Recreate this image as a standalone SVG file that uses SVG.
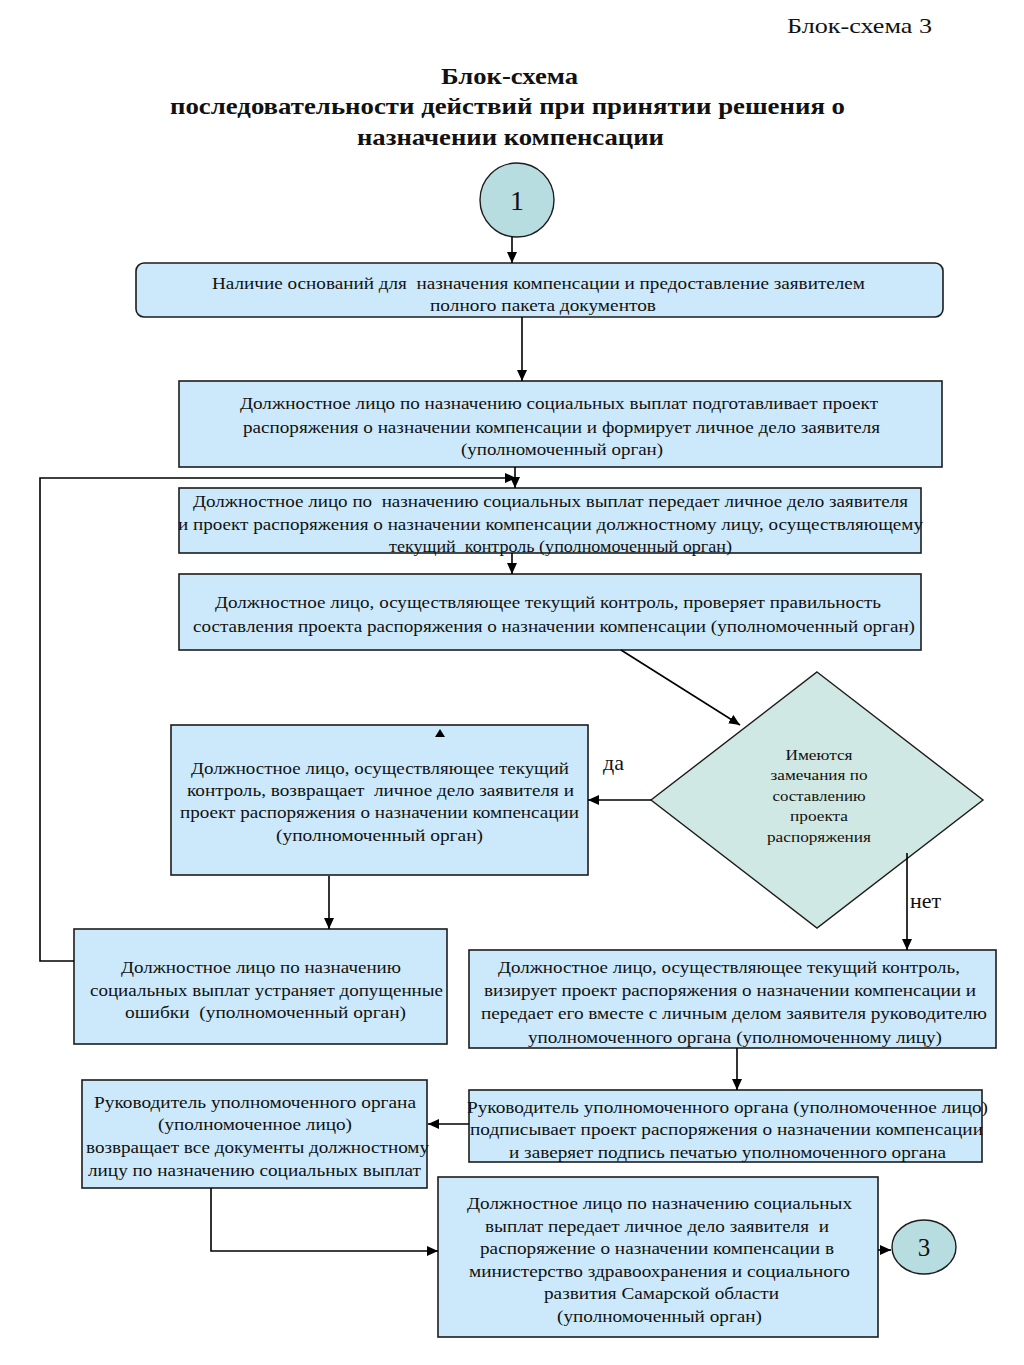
<svg xmlns="http://www.w3.org/2000/svg" width="1024" height="1365" viewBox="0 0 1024 1365">
<style>
text{font-family:"Liberation Serif","Times New Roman",serif;fill:#111;white-space:pre}
.t{font-size:16.5px}
.d{font-size:15px}
.h{font-size:23px;font-weight:bold}
.box{fill:#cce9fb;stroke:#1c1c1c;stroke-width:1.6}
.circ{fill:#b8dde0;stroke:#1c1c1c;stroke-width:1.4}
.dia{fill:#d0e8e4;stroke:#1c1c1c;stroke-width:1.4}
.ln{fill:none;stroke:#000;stroke-width:1.6}
</style>
<defs>
<marker id="ah" markerUnits="userSpaceOnUse" markerWidth="12" markerHeight="10" refX="11" refY="5" orient="auto">
<path d="M0,0 L11,5 L0,10 z" fill="#000"/>
</marker>
</defs>
<rect width="1024" height="1365" fill="#fff"/>
<g id="title">
<text x="787" y="33" style="font-size:22px" textLength="145" lengthAdjust="spacingAndGlyphs">Блок-схема 3</text>
<text class="h" x="441" y="84" textLength="137" lengthAdjust="spacingAndGlyphs">Блок-схема</text>
<text class="h" x="170" y="114" textLength="675" lengthAdjust="spacingAndGlyphs">последовательности действий при принятии решения о</text>
<text class="h" x="357" y="145" textLength="307" lengthAdjust="spacingAndGlyphs">назначении компенсации</text>
</g>
<g id="n1">
<ellipse class="circ" cx="517" cy="200" rx="37" ry="37"/>
<text x="517" y="210" text-anchor="middle" style="font-size:28px">1</text>
</g>
<g id="n2">
<rect class="box" x="136" y="263" width="807" height="54" rx="8"/>
<text class="t" x="212" y="289" textLength="653" lengthAdjust="spacingAndGlyphs">Наличие оснований для  назначения компенсации и предоставление заявителем</text>
<text class="t" x="430" y="311" textLength="226" lengthAdjust="spacingAndGlyphs">полного пакета документов</text>
</g>
<g id="n3">
<rect class="box" x="179" y="381" width="763" height="86"/>
<text class="t" x="240" y="409" textLength="638" lengthAdjust="spacingAndGlyphs">Должностное лицо по назначению социальных выплат подготавливает проект</text>
<text class="t" x="243" y="433" textLength="637" lengthAdjust="spacingAndGlyphs">распоряжения о назначении компенсации и формирует личное дело заявителя</text>
<text class="t" x="461" y="455" textLength="202" lengthAdjust="spacingAndGlyphs">(уполномоченный орган)</text>
</g>
<g id="n4">
<rect class="box" x="179" y="488" width="742" height="65"/>
<text class="t" x="193" y="507" textLength="715" lengthAdjust="spacingAndGlyphs">Должностное лицо по  назначению социальных выплат передает личное дело заявителя</text>
<text class="t" x="178" y="530" textLength="745" lengthAdjust="spacingAndGlyphs">и проект распоряжения о назначении компенсации должностному лицу, осуществляющему</text>
<text class="t" x="389" y="552" textLength="343" lengthAdjust="spacingAndGlyphs">текущий  контроль (уполномоченный орган)</text>
</g>
<g id="n5">
<rect class="box" x="179" y="574" width="742" height="76"/>
<text class="t" x="215" y="608" textLength="666" lengthAdjust="spacingAndGlyphs">Должностное лицо, осуществляющее текущий контроль, проверяет правильность</text>
<text class="t" x="193" y="632" textLength="722" lengthAdjust="spacingAndGlyphs">составления проекта распоряжения о назначении компенсации (уполномоченный орган)</text>
</g>
<g id="n6">
<polygon class="dia" points="817,672 983,800 817,928 651,800"/>
<text class="d" x="819" y="760" text-anchor="middle" textLength="67" lengthAdjust="spacingAndGlyphs">Имеются</text>
<text class="d" x="819" y="780" text-anchor="middle" textLength="97" lengthAdjust="spacingAndGlyphs">замечания по</text>
<text class="d" x="819" y="801" text-anchor="middle" textLength="93" lengthAdjust="spacingAndGlyphs">составлению</text>
<text class="d" x="819" y="821" text-anchor="middle" textLength="58" lengthAdjust="spacingAndGlyphs">проекта</text>
<text class="d" x="819" y="842" text-anchor="middle" textLength="104" lengthAdjust="spacingAndGlyphs">распоряжения</text>
</g>
<g id="n7">
<rect class="box" x="171" y="725" width="417" height="150"/>
<text class="t" x="191" y="774" textLength="378" lengthAdjust="spacingAndGlyphs">Должностное лицо, осуществляющее текущий</text>
<text class="t" x="187" y="796" textLength="387" lengthAdjust="spacingAndGlyphs">контроль, возвращает  личное дело заявителя и</text>
<text class="t" x="180" y="818" textLength="399" lengthAdjust="spacingAndGlyphs">проект распоряжения о назначении компенсации</text>
<text class="t" x="276" y="841" textLength="207" lengthAdjust="spacingAndGlyphs">(уполномоченный орган)</text>
</g>
<g id="n8">
<rect class="box" x="74" y="929" width="373" height="115"/>
<text class="t" x="121" y="973" textLength="280" lengthAdjust="spacingAndGlyphs">Должностное лицо по назначению</text>
<text class="t" x="90" y="996" textLength="353" lengthAdjust="spacingAndGlyphs">социальных выплат устраняет допущенные</text>
<text class="t" x="125" y="1018" textLength="281" lengthAdjust="spacingAndGlyphs">ошибки  (уполномоченный орган)</text>
</g>
<g id="n9">
<rect class="box" x="469" y="950" width="527" height="98"/>
<text class="t" x="498" y="973" textLength="462" lengthAdjust="spacingAndGlyphs">Должностное лицо, осуществляющее текущий контроль,</text>
<text class="t" x="484" y="996" textLength="492" lengthAdjust="spacingAndGlyphs">визирует проект распоряжения о назначении компенсации и</text>
<text class="t" x="481" y="1019" textLength="506" lengthAdjust="spacingAndGlyphs">передает его вместе с личным делом заявителя руководителю</text>
<text class="t" x="528" y="1043" textLength="414" lengthAdjust="spacingAndGlyphs">уполномоченного органа (уполномоченному лицу)</text>
</g>
<g id="n10">
<rect class="box" x="469" y="1090" width="513" height="72"/>
<text class="t" x="467" y="1113" textLength="521" lengthAdjust="spacingAndGlyphs">Руководитель уполномоченного органа (уполномоченное лицо)</text>
<text class="t" x="470" y="1135" textLength="513" lengthAdjust="spacingAndGlyphs">подписывает проект распоряжения о назначении компенсации</text>
<text class="t" x="509" y="1158" textLength="437" lengthAdjust="spacingAndGlyphs">и заверяет подпись печатью уполномоченного органа</text>
</g>
<g id="n11">
<rect class="box" x="82" y="1080" width="345" height="108"/>
<text class="t" x="94" y="1108" textLength="322" lengthAdjust="spacingAndGlyphs">Руководитель уполномоченного органа</text>
<text class="t" x="158" y="1130" textLength="194" lengthAdjust="spacingAndGlyphs">(уполномоченное лицо)</text>
<text class="t" x="86" y="1153" textLength="343" lengthAdjust="spacingAndGlyphs">возвращает все документы должностному</text>
<text class="t" x="88" y="1176" textLength="333" lengthAdjust="spacingAndGlyphs">лицу по назначению социальных выплат</text>
</g>
<g id="n12">
<rect class="box" x="438" y="1177" width="440" height="160"/>
<text class="t" x="467" y="1209" textLength="385" lengthAdjust="spacingAndGlyphs">Должностное лицо по назначению социальных</text>
<text class="t" x="485" y="1232" textLength="344" lengthAdjust="spacingAndGlyphs">выплат передает личное дело заявителя  и</text>
<text class="t" x="480" y="1254" textLength="354" lengthAdjust="spacingAndGlyphs">распоряжение о назначении компенсации в</text>
<text class="t" x="469" y="1277" textLength="381" lengthAdjust="spacingAndGlyphs">министерство здравоохранения и социального</text>
<text class="t" x="544" y="1299" textLength="235" lengthAdjust="spacingAndGlyphs">развития Самарской области</text>
<text class="t" x="557" y="1322" textLength="205" lengthAdjust="spacingAndGlyphs">(уполномоченный орган)</text>
</g>
<g id="n13">
<ellipse class="circ" cx="924" cy="1247" rx="32" ry="27"/>
<text x="924" y="1256" text-anchor="middle" style="font-size:25px">3</text>
</g>
<g id="connectors">
<line class="ln" x1="512" y1="237" x2="512" y2="263" marker-end="url(#ah)"/>
<line class="ln" x1="522" y1="317" x2="522" y2="381" marker-end="url(#ah)"/>
<line class="ln" x1="515" y1="467" x2="515" y2="488" marker-end="url(#ah)"/>
<polyline class="ln" points="74,961 40,961 40,478 516,478" marker-end="url(#ah)"/>
<line class="ln" x1="512" y1="553" x2="512" y2="574" marker-end="url(#ah)"/>
<line class="ln" x1="621" y1="650" x2="740" y2="725" marker-end="url(#ah)"/>
<line class="ln" x1="651" y1="800" x2="588" y2="800" marker-end="url(#ah)"/>
<polygon points="440,729 445,737 435,737" fill="#000"/>
<line class="ln" x1="329" y1="876" x2="329" y2="929" marker-end="url(#ah)"/>
<line class="ln" x1="907" y1="853" x2="907" y2="950" marker-end="url(#ah)"/>
<line class="ln" x1="737" y1="1048" x2="737" y2="1090" marker-end="url(#ah)"/>
<line class="ln" x1="469" y1="1124" x2="428" y2="1124" marker-end="url(#ah)"/>
<polyline class="ln" points="211,1188 211,1251 438,1251" marker-end="url(#ah)"/>
<line class="ln" x1="878" y1="1250" x2="891" y2="1250" marker-end="url(#ah)"/>
<text x="603" y="770" style="font-size:22px">да</text>
<text x="910" y="908" style="font-size:22px">нет</text>
</g>
</svg>
